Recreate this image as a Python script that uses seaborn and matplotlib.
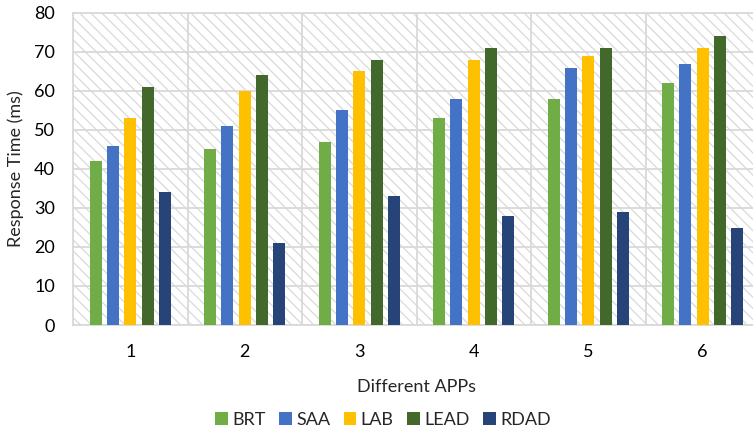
import matplotlib
matplotlib.use("Agg")
import matplotlib.pyplot as plt
import matplotlib.patches as mpatches
import numpy as np
import pandas as pd
import seaborn as sns

# Response time per application for each scheme
apps = ["1", "2", "3", "4", "5", "6"]
schemes = ["BRT", "SAA", "LAB", "LEAD", "RDAD"]
brt = [42, 45, 47, 53, 58, 62]
saa = [46, 51, 55, 58, 66, 67]
lab = [53, 60, 65, 68, 69, 71]
lead = [61, 64, 68, 71, 71, 74]
rdad = [34, 21, 33, 28, 29, 25]
colors = ["#70AD47", "#4472C4", "#FFC000", "#43682B", "#264478"]

df = pd.DataFrame({
    "APP": np.tile(apps, len(schemes)),
    "Scheme": np.repeat(schemes, len(apps)),
    "Time": brt + saa + lab + lead + rdad,
})

sns.set_theme(style="white")
plt.rcParams["font.family"] = ["Lato", "DejaVu Sans"]
plt.rcParams["hatch.linewidth"] = 0.9
plt.rcParams["hatch.color"] = "#D9D9D9"

fig = plt.figure(figsize=(7.53, 4.33), dpi=100)
ax = fig.add_axes([73 / 753, 1 - 325 / 433, 687 / 753, 312 / 433])

# diagonal hatched plot-area fill
ax.add_patch(mpatches.Rectangle((0, 0), 1, 1, transform=ax.transAxes,
                                facecolor="white", edgecolor="#D9D9D9",
                                hatch="\\\\\\", linewidth=0, zorder=0))

sns.barplot(data=df, x="APP", y="Time", hue="Scheme", order=apps,
            hue_order=schemes, palette=colors, width=0.756, gap=0.31,
            saturation=1, linewidth=0, ax=ax, zorder=3, legend=True)

ax.set_ylim(0, 80)
ax.set_xlim(-0.5, 5.5)
ax.set_yticks(range(0, 81, 10))
ax.set_xticks(range(len(apps)))
ax.set_xticklabels(apps)
ax.set_xticks(np.arange(-0.5, 6, 1), minor=True)

ax.grid(True, axis="y", color="#D9D9D9", linewidth=1.3, zorder=1)
ax.grid(True, axis="x", which="minor", color="#D9D9D9", linewidth=1.3, zorder=1)
ax.grid(False, axis="x", which="major")
ax.set_axisbelow(True)
for s in ax.spines.values():
    s.set_color("#D9D9D9")
    s.set_linewidth(1.3)
ax.spines["right"].set_visible(False)

ax.tick_params(axis="both", which="both", length=0, labelsize=13, colors="#000000")
ax.tick_params(axis="x", pad=14)
ax.tick_params(axis="y", pad=13)

ax.set_xlabel("Different APPs", fontsize=13, labelpad=13)
ax.set_ylabel("Response Time (ms)", fontsize=13, labelpad=7)

handles, labels = ax.get_legend_handles_labels()
ax.legend(handles, labels, loc="center",
          bbox_to_anchor=((383 - 73) / 687, (325 - 420) / 312),
          ncol=5, frameon=False, fontsize=13, handlelength=0.7, handleheight=0.7,
          handletextpad=0.25, columnspacing=0.75)

fig.savefig("out.png", dpi=100)
